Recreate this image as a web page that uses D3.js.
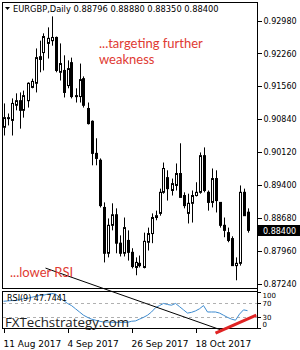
<!doctype html>
<html>
<head>
<meta charset="UTF-8">
<title>EURGBP Daily</title>
<script src="https://cdn.jsdelivr.net/npm/d3@7"></script>
<style>
  body { margin: 0; background: #fff; }
  .axis path, .axis line { stroke: #000; shape-rendering: crispEdges; }
  .axis text { font-family: "DejaVu Sans", sans-serif; font-size: 8px; fill: #000; }
</style>
</head>
<body>
<script>
// candle data, one row per daily bar: open, high, low, close
var opens = [0.9065, 0.9084, 0.9080, 0.9113, 0.9123, 0.9102, 0.9123, 0.9152, 0.9161, 0.9219,
  0.9228, 0.9248, 0.9254, 0.9261, 0.9185, 0.9189, 0.9156, 0.9206, 0.9134, 0.9132,
  0.9171, 0.9106, 0.9078, 0.9008, 0.8993, 0.8890, 0.8790, 0.8851, 0.8874, 0.8812,
  0.8790, 0.8818, 0.8792, 0.8759, 0.8768, 0.8759, 0.8814, 0.8833, 0.8868, 0.8877,
  0.8923, 0.8955, 0.8927, 0.8938, 0.8964, 0.8916, 0.8877, 0.8899, 0.8916, 0.8923,
  0.9003, 0.8923, 0.8901, 0.8953, 0.8901, 0.8851, 0.8835, 0.8822, 0.8763, 0.8768,
  0.8923, 0.88796];
var highs = [0.9117, 0.9095, 0.9128, 0.9139, 0.9141, 0.9145, 0.9163, 0.9171, 0.9237, 0.9254,
  0.9270, 0.9283, 0.9307, 0.9263, 0.9248, 0.9222, 0.9211, 0.9217, 0.9150, 0.9204,
  0.9176, 0.9119, 0.9080, 0.9041, 0.8997, 0.8901, 0.8866, 0.8899, 0.8888, 0.8829,
  0.8868, 0.8840, 0.8801, 0.8781, 0.8785, 0.8835, 0.8846, 0.8877, 0.8883, 0.8931,
  0.8988, 0.8971, 0.8953, 0.8986, 0.9030, 0.8923, 0.8920, 0.8927, 0.8945, 0.9010,
  0.9021, 0.8927, 0.8975, 0.8971, 0.8901, 0.8868, 0.8846, 0.8827, 0.8781, 0.8938,
  0.8931, 0.88880];
var lows = [0.9047, 0.9069, 0.9047, 0.9102, 0.9062, 0.9086, 0.9108, 0.9150, 0.9141, 0.9185,
  0.9189, 0.9215, 0.9243, 0.9185, 0.9167, 0.9130, 0.9150, 0.9128, 0.9119, 0.9119,
  0.9108, 0.9071, 0.8982, 0.8982, 0.8890, 0.8770, 0.8781, 0.8840, 0.8790, 0.8783,
  0.8783, 0.8774, 0.8757, 0.8742, 0.8759, 0.8757, 0.8796, 0.8812, 0.8862, 0.8872,
  0.8920, 0.8905, 0.8916, 0.8927, 0.8912, 0.8888, 0.8855, 0.8857, 0.8914, 0.8920,
  0.8923, 0.8883, 0.8890, 0.8879, 0.8846, 0.8825, 0.8814, 0.8763, 0.8731, 0.8763,
  0.8872, 0.88350];
var closes = [0.9086, 0.9086, 0.9117, 0.9123, 0.9102, 0.9134, 0.9161, 0.9165, 0.9217, 0.9213,
  0.9263, 0.9259, 0.9261, 0.9189, 0.9204, 0.9141, 0.9193, 0.9132, 0.9133, 0.9169,
  0.9113, 0.9073, 0.9008, 0.8997, 0.8894, 0.8790, 0.8851, 0.8874, 0.8812, 0.8790,
  0.8846, 0.8792, 0.8761, 0.8770, 0.8763, 0.8816, 0.8833, 0.8868, 0.8872, 0.8923,
  0.8975, 0.8931, 0.8942, 0.8964, 0.8912, 0.8894, 0.8899, 0.8916, 0.8923, 0.9003,
  0.8927, 0.8901, 0.8953, 0.8905, 0.8851, 0.8840, 0.8818, 0.8763, 0.8768, 0.8923,
  0.8872, 0.88400];

// RSI(9)
var rsiValues = [74, 75, 76, 76, 79, 81, 82, 85, 88, 90,
  91, 94, 96, 94, 85, 76, 68, 62, 53, 44,
  35, 29, 24, 21, 18, 16, 16, 15, 15, 15,
  15, 15, 18, 19, 24, 29, 35, 44, 56, 62,
  68, 65, 63, 68, 59, 50, 41, 43, 47, 53,
  62, 44, 44, 44, 41, 35, 29, 24, 21, 38,
  50, 47.7441];

var priceTicks = [0.92980, 0.92260, 0.91560, 0.90840, 0.90120, 0.89400, 0.88680, 0.87960, 0.87240];
var rsiTicks = [100, 70, 30, 0];
var rsiLevels = [70, 30];
var dateTickIndex = [0, 16, 32, 48];
var dateTickLabels = ["11 Aug 2017", "4 Sep 2017", "26 Sep 2017", "18 Oct 2017"];

// annotation lines, in bar index / RSI units of the lower panel
var blackLine = [{bar: 10.5, rsi: 167}, {bar: 54.3, rsi: -6}];
var redLine = [{bar: 53, rsi: -15}, {bar: 63.2, rsi: 35.5}];

var width = 300, height = 350;
var left = 2, right = 257;
var mainTop = 2, mainBottom = 288;
var rsiTop = 291, rsiBottom = 328;

var svg = d3.select("body").append("svg")
  .attr("width", width)
  .attr("height", height);

var xScale = d3.scaleLinear()
  .domain([0, 61])
  .range([3.5, 247.5]);

var yScale = d3.scaleLinear()
  .domain([0.87240, 0.92980])
  .range([283.5, 20.5]);

var rsiScale = d3.scaleLinear()
  .domain([0, 100])
  .range([327.7, 292]);

var bars = d3.range(opens.length).map(function(i) {
  return {i: i, o: opens[i], h: highs[i], l: lows[i], c: closes[i]};
});

// frames
svg.append("rect")
  .attr("x", left + 0.5).attr("y", mainTop + 0.5)
  .attr("width", right - left).attr("height", mainBottom - mainTop)
  .attr("fill", "none").attr("stroke", "#000");

svg.append("rect")
  .attr("x", left + 0.5).attr("y", rsiTop + 0.5)
  .attr("width", right - left).attr("height", rsiBottom - rsiTop)
  .attr("fill", "none").attr("stroke", "#000");

// price axis
var yAxis = d3.axisRight(yScale)
  .tickValues(priceTicks)
  .tickSize(4)
  .tickPadding(2)
  .tickFormat(d3.format(".5f"));

svg.append("g")
  .attr("class", "axis")
  .attr("transform", "translate(" + (right + 0.5) + ",0)")
  .call(yAxis)
  .call(function(g) { g.select(".domain").remove(); });

// current price box
var last = bars[bars.length - 1];
svg.append("rect")
  .attr("x", right + 1).attr("y", Math.round(yScale(last.c)) - 5)
  .attr("width", 43).attr("height", 11)
  .attr("fill", "#000");
svg.append("text")
  .attr("x", right + 6).attr("y", yScale(last.c) + 3.5)
  .attr("font-family", "DejaVu Sans, sans-serif")
  .attr("font-size", "8px")
  .attr("fill", "#fff")
  .text(d3.format(".5f")(last.c));

// candles
var g = svg.append("g");

g.selectAll("line.wick")
  .data(bars)
  .enter().append("line")
  .attr("class", "wick")
  .attr("x1", function(d) { return Math.round(xScale(d.i)) + 0.5; })
  .attr("x2", function(d) { return Math.round(xScale(d.i)) + 0.5; })
  .attr("y1", function(d) { return yScale(d.h); })
  .attr("y2", function(d) { return yScale(d.l); })
  .attr("stroke", "#000")
  .attr("stroke-width", 1);

g.selectAll("rect.body")
  .data(bars)
  .enter().append("rect")
  .attr("class", "body")
  .attr("x", function(d) { return Math.round(xScale(d.i)) - 0.5; })
  .attr("y", function(d) { return yScale(Math.max(d.o, d.c)); })
  .attr("width", 2)
  .attr("height", function(d) { return Math.max(1, Math.abs(yScale(d.o) - yScale(d.c))); })
  .attr("fill", function(d) { return d.c >= d.o ? "#fff" : "#000"; })
  .attr("stroke", "#000")
  .attr("stroke-width", 1);

// RSI levels
svg.selectAll("line.level")
  .data(rsiLevels)
  .enter().append("line")
  .attr("class", "level")
  .attr("x1", left + 1).attr("x2", right)
  .attr("y1", function(d) { return Math.round(rsiScale(d)) + 0.5; })
  .attr("y2", function(d) { return Math.round(rsiScale(d)) + 0.5; })
  .attr("stroke", "#b0b0b0")
  .attr("stroke-dasharray", "3,3");

var rsiLine = d3.line()
  .x(function(d, i) { return xScale(i); })
  .y(function(d) { return rsiScale(d); });

svg.append("path")
  .datum(rsiValues)
  .attr("d", rsiLine)
  .attr("fill", "none")
  .attr("stroke", "#3d8bd0")
  .attr("stroke-width", 1);

// RSI axis
var rsiAxis = d3.axisRight(rsiScale)
  .tickValues(rsiTicks)
  .tickSize(3)
  .tickPadding(2);

var rsiAxisG = svg.append("g")
  .attr("class", "axis")
  .attr("transform", "translate(" + (right + 0.5) + ",0)")
  .call(rsiAxis)
  .call(function(g) { g.select(".domain").remove(); });

rsiAxisG.selectAll(".tick text")
  .style("font-size", "7px")
  .attr("dy", function(d) { return d === 100 ? "0.75em" : d === 0 ? "-0.2em" : "0.4em"; });

// right border line over both panels
svg.append("line")
  .attr("x1", right + 0.5).attr("x2", right + 0.5)
  .attr("y1", mainTop).attr("y2", rsiBottom + 1)
  .attr("stroke", "#000");

// date axis
var dateAxis = d3.axisBottom(xScale)
  .tickValues(dateTickIndex)
  .tickSize(4)
  .tickFormat(function(d, i) { return dateTickLabels[i]; });

svg.append("g")
  .attr("class", "axis")
  .attr("transform", "translate(0," + (rsiBottom + 0.5) + ")")
  .call(dateAxis)
  .call(function(g) { g.select(".domain").remove(); })
  .selectAll(".tick text")
  .attr("text-anchor", "start")
  .attr("x", -0.5)
  .attr("dy", "1.3em")
  .style("font-size", "9px");

// header
svg.append("path")
  .attr("d", "M5,7 L10,7 L7.5,10 Z")
  .attr("fill", "#000");
svg.append("text")
  .attr("x", 13).attr("y", 12)
  .attr("font-family", "DejaVu Sans, sans-serif")
  .attr("font-size", "8.3px")
  .text("EURGBP,Daily  " + [last.o, last.h, last.l, last.c].map(d3.format(".5f")).join(" "));

svg.append("text")
  .attr("x", 7).attr("y", 301)
  .attr("font-family", "DejaVu Sans, sans-serif")
  .attr("font-size", "8px")
  .text("RSI(9) " + rsiValues[rsiValues.length - 1].toFixed(4));

// annotations
var annLine = d3.line()
  .x(function(d) { return xScale(d.bar); })
  .y(function(d) { return rsiScale(d.rsi); });

svg.append("path")
  .datum(blackLine)
  .attr("d", annLine)
  .attr("stroke", "#000")
  .attr("fill", "none");

svg.append("path")
  .datum(redLine)
  .attr("d", annLine)
  .attr("stroke", "#e02424")
  .attr("stroke-width", 3)
  .attr("fill", "none");

svg.append("text")
  .attr("x", 99).attr("y", 48)
  .attr("font-family", "Lato, sans-serif")
  .attr("font-size", "13px")
  .attr("fill", "#e03a32")
  .text("...targeting further");
svg.append("text")
  .attr("x", 99).attr("y", 64)
  .attr("font-family", "Lato, sans-serif")
  .attr("font-size", "13px")
  .attr("fill", "#e03a32")
  .text("weakness");

svg.append("text")
  .attr("x", 10).attr("y", 277)
  .attr("font-family", "Lato, sans-serif")
  .attr("font-size", "13px")
  .attr("fill", "#e03a32")
  .text("...lower RSI");

svg.append("text")
  .attr("x", 5).attr("y", 327)
  .attr("font-family", "Open Sans, sans-serif")
  .attr("font-size", "13.3px")
  .attr("fill", "#222")
  .text("FXTechstrategy.com");
</script>
</body>
</html>
